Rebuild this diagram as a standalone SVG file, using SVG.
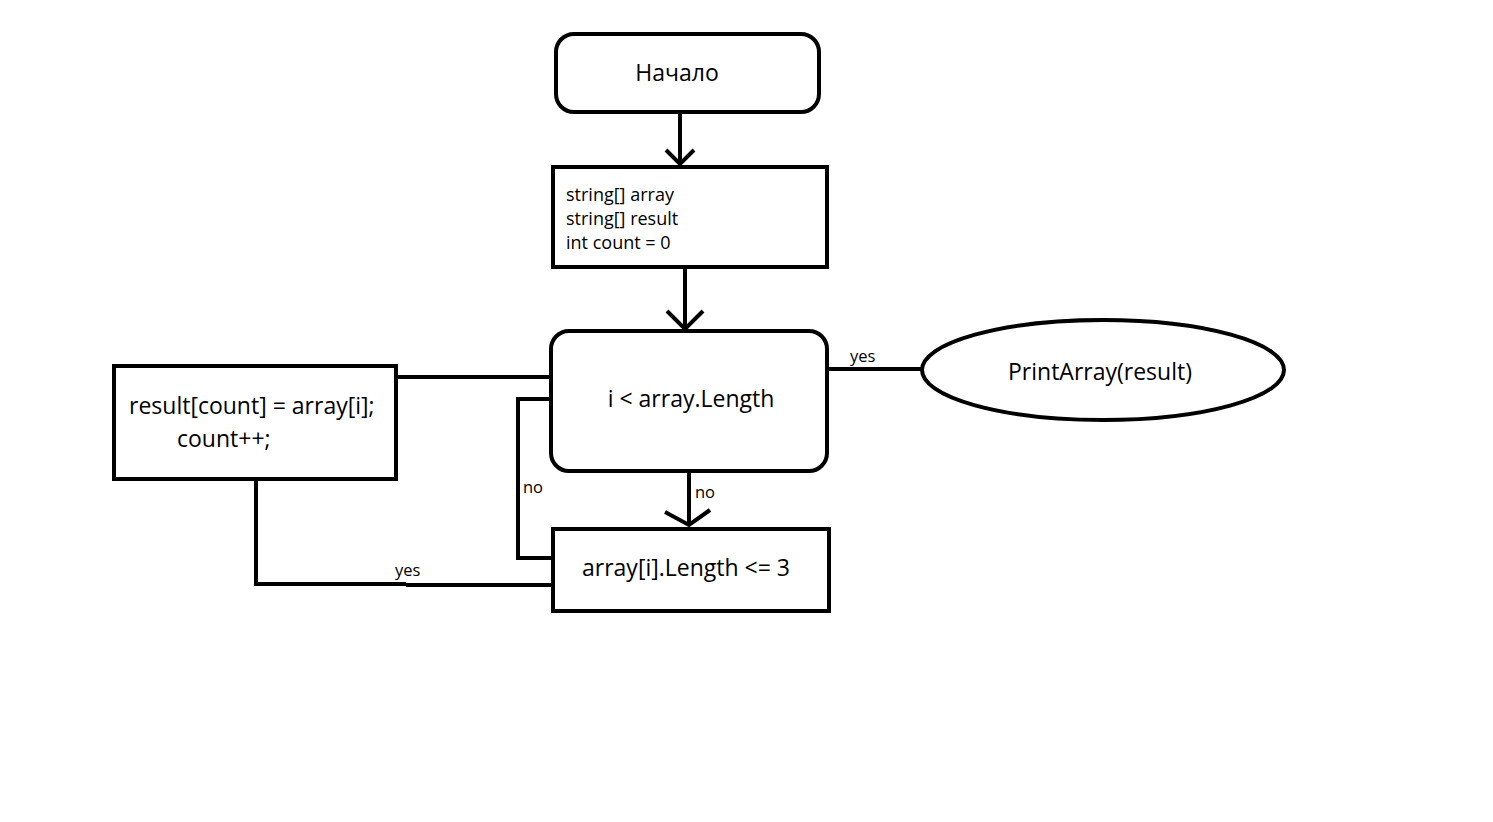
<svg xmlns="http://www.w3.org/2000/svg" width="1493" height="822" viewBox="0 0 1493 822">
<style>
.box{fill:#fff;stroke:#000;stroke-width:4}
.ln{fill:none;stroke:#000;stroke-width:4}
.t{font-family:"Open Sans","Noto Sans","Liberation Sans",sans-serif;fill:#000}
.big{font-size:23px}
.sm{font-size:18px}
.lab{font-size:16.5px}
</style>
<rect width="1493" height="822" fill="#fff"/>
<g id="connectors">
<path class="ln" d="M680 112 V164 M666 150 L680 164 L694 150"/>
<path class="ln" d="M685 267 V329 M667 311 L685 329 L703 311"/>
<path class="ln" d="M827 369 H922"/>
<path class="ln" d="M689 471 V524 M665 512 L689 525 L710 510"/>
<path class="ln" d="M551 399 H518 V558 H553"/>
<path class="ln" d="M396 377 H551"/>
<path class="ln" d="M256 479 V584 H406 M406 585 H555"/>
<text class="t lab" x="850" y="362">yes</text>
<text class="t lab" x="695" y="498">no</text>
<text class="t lab" x="523" y="493">no</text>
<text class="t lab" x="395" y="576">yes</text>
</g>
<g id="start">
<rect class="box" x="556" y="34" width="263" height="78" rx="18"/>
<text class="t big" x="677" y="81" text-anchor="middle">Начало</text>
</g>
<g id="init">
<rect class="box" x="553" y="167" width="274" height="100"/>
<text class="t sm" x="566" y="201">string[] array</text>
<text class="t sm" x="566" y="225">string[] result</text>
<text class="t sm" x="566" y="249">int count = 0</text>
</g>
<g id="loop">
<rect class="box" x="551" y="331" width="276" height="140" rx="18"/>
<text class="t big" x="691" y="407" text-anchor="middle">i &lt; array.Length</text>
</g>
<g id="print">
<ellipse class="box" cx="1103" cy="370" rx="181" ry="50"/>
<text class="t big" x="1100" y="380" text-anchor="middle">PrintArray(result)</text>
</g>
<g id="check">
<rect class="box" x="553" y="529" width="276" height="82"/>
<text class="t big" x="582" y="576">array[i].Length &lt;= 3</text>
</g>
<g id="assign">
<rect class="box" x="114" y="366" width="282" height="113"/>
<text class="t big" x="129" y="414">result[count] = array[i];</text>
<text class="t big" x="177" y="447">count++;</text>
</g>
</svg>
